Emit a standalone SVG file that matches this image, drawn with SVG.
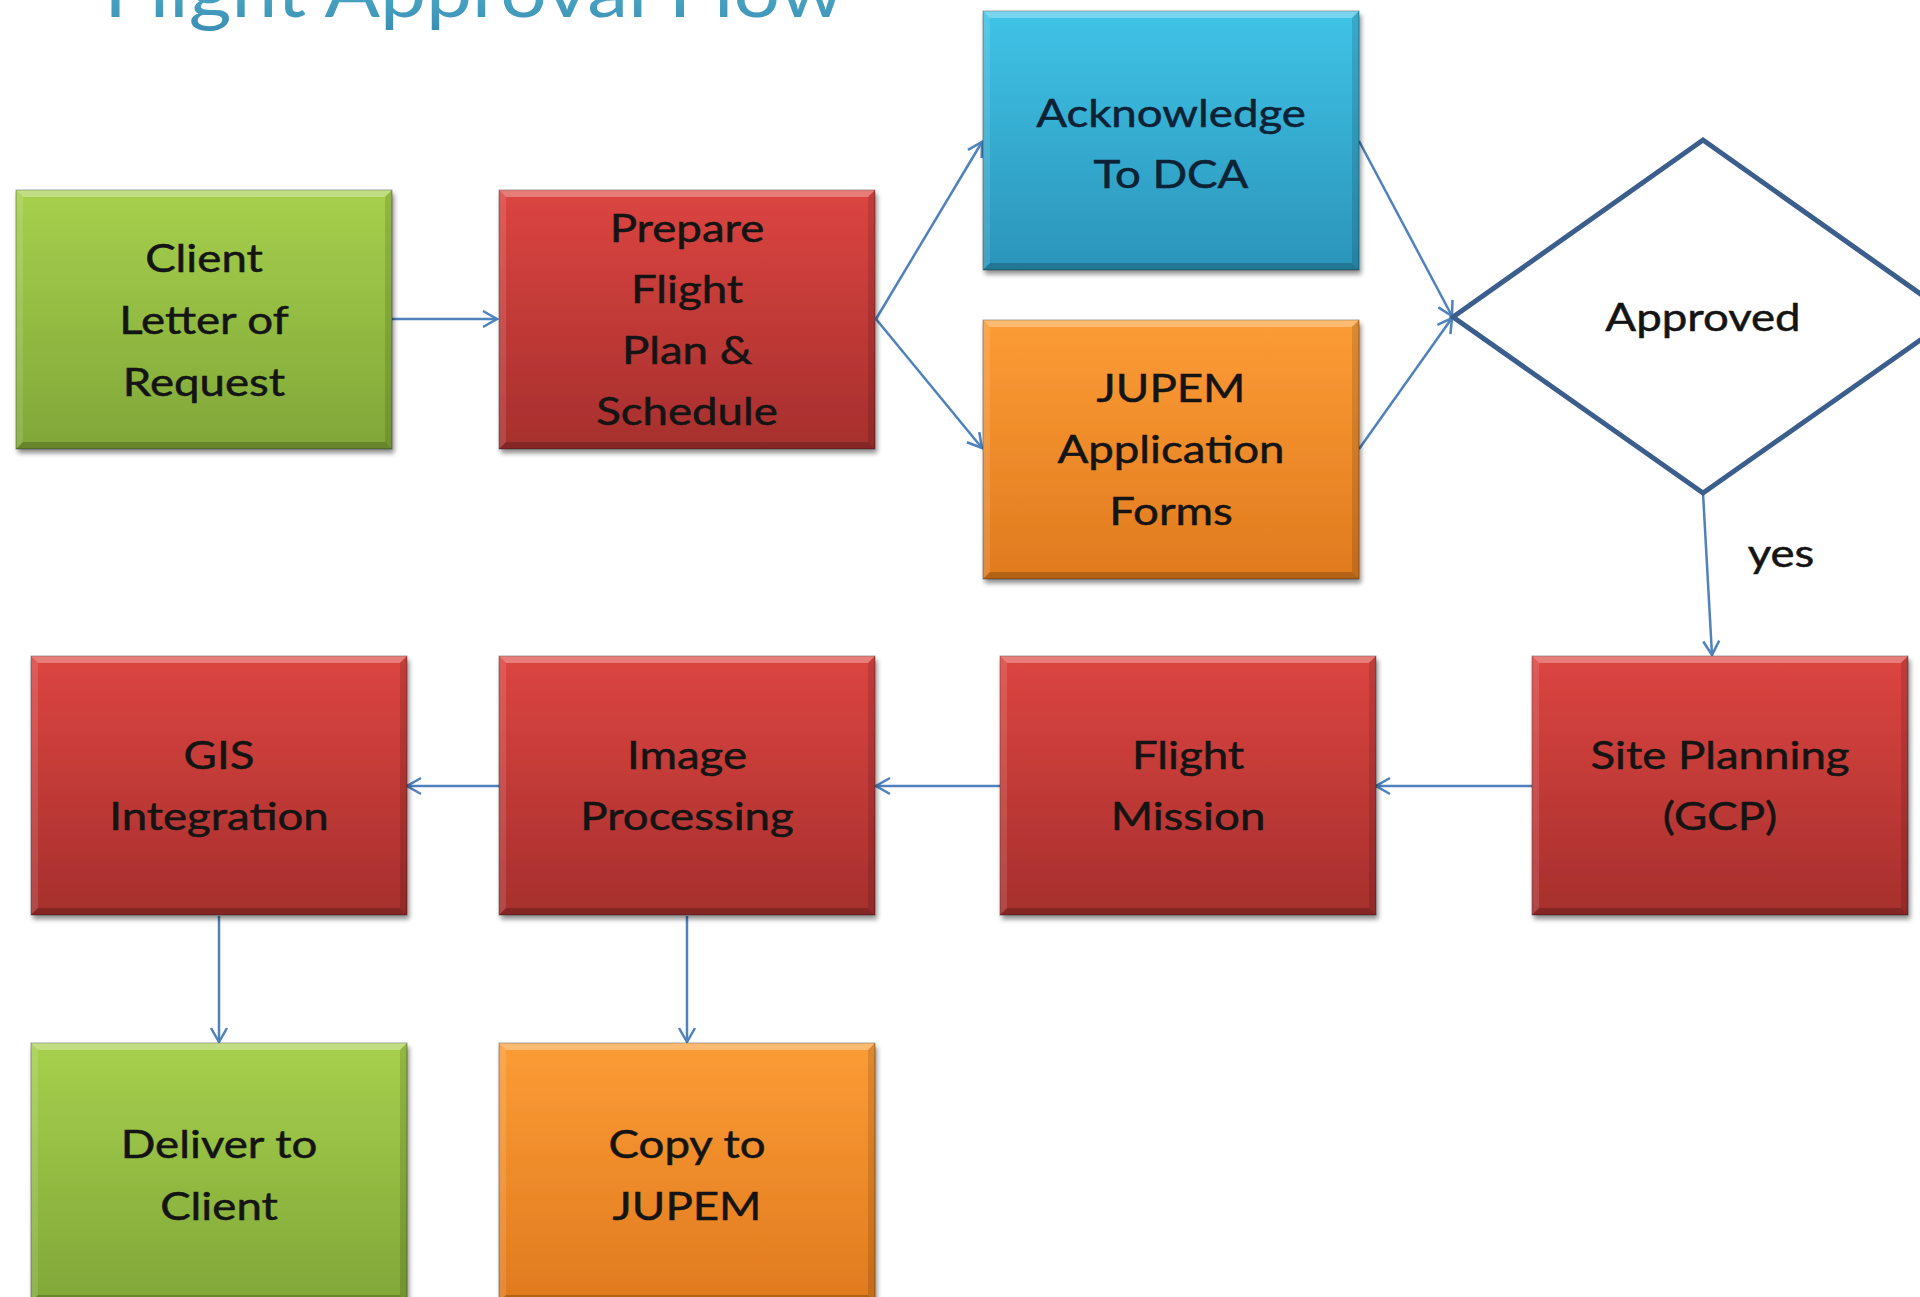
<svg xmlns="http://www.w3.org/2000/svg" xmlns:xlink="http://www.w3.org/1999/xlink" width="1920" height="1297" viewBox="0 0 1920 1297">
  <style>
    .lbl { font-family: Lato, "Liberation Sans", sans-serif; font-size: 38px; fill: #141414; stroke: #141414; stroke-width: 0.5; text-anchor: middle; }
    .title { font-family: Lato, "Liberation Sans", sans-serif; font-size: 74px; }
    .edge { fill: none; stroke: #4F81BD; stroke-width: 2.5; marker-end: url(#open); }
    .frame { stroke: rgba(0,0,0,0.35); stroke-width: 1; }
    .green { fill: url(#gGreen); }
    .red { fill: url(#gRed); }
    .blue { fill: url(#gBlue); }
    .orange { fill: url(#gOrange); }
  </style>
  <defs>
    <linearGradient id="gGreen" x1="0" y1="0" x2="0" y2="1">
      <stop offset="0" stop-color="#A6D04D"/>
      <stop offset="1" stop-color="#80A738"/>
    </linearGradient>
    <linearGradient id="gRed" x1="0" y1="0" x2="0" y2="1">
      <stop offset="0" stop-color="#DC4541"/>
      <stop offset="1" stop-color="#A62F2D"/>
    </linearGradient>
    <linearGradient id="gBlue" x1="0" y1="0" x2="0" y2="1">
      <stop offset="0" stop-color="#3FC3E7"/>
      <stop offset="1" stop-color="#2B94B9"/>
    </linearGradient>
    <linearGradient id="gOrange" x1="0" y1="0" x2="0" y2="1">
      <stop offset="0" stop-color="#FC9C36"/>
      <stop offset="1" stop-color="#E07A1E"/>
    </linearGradient>
    <linearGradient id="gTitle" x1="0" y1="0" x2="0" y2="1">
      <stop offset="0" stop-color="#5CC3DA"/>
      <stop offset="1" stop-color="#3A8DB2"/>
    </linearGradient>
    <filter id="shadow" x="-5%" y="-5%" width="115%" height="115%">
      <feGaussianBlur in="SourceAlpha" stdDeviation="2.5"/>
      <feOffset dx="2" dy="4" result="off"/>
      <feComponentTransfer><feFuncA type="linear" slope="0.45"/></feComponentTransfer>
      <feMerge><feMergeNode/><feMergeNode in="SourceGraphic"/></feMerge>
    </filter>
    <!-- bevelled edges laid over every 376x259 box -->
    <g id="bevel">
      <path d="M0,0 L376,0 L369,7 L7,7 Z" fill="#fff" fill-opacity="0.3"/>
      <path d="M0,0 L7,7 L7,252 L0,259 Z" fill="#fff" fill-opacity="0.12"/>
      <path d="M376,0 L376,259 L369,252 L369,7 Z" fill="#000" fill-opacity="0.12"/>
      <path d="M0,259 L7,252 L369,252 L376,259 Z" fill="#000" fill-opacity="0.2"/>
    </g>
    <marker id="open" markerUnits="userSpaceOnUse" markerWidth="20" markerHeight="22" viewBox="-17 -11 20 22" refX="0" refY="0" orient="auto">
      <path d="M-14,-8 L0,0 L-14,8" fill="none" stroke="#4F81BD" stroke-width="2.5"/>
    </marker>
  </defs>

  <rect width="1920" height="1297" fill="#fff"/>

  <text class="title" x="104" y="17" textLength="740" lengthAdjust="spacingAndGlyphs" fill="url(#gTitle)">Flight Approval Flow</text>

  <g id="connectors">
    <path class="edge" d="M391,319 L497,319"/>
    <path class="edge" d="M876,319 L982,142"/>
    <path class="edge" d="M876,319 L982,448"/>
    <path class="edge" d="M1359,141 L1452,316"/>
    <path class="edge" d="M1359,449 L1452,318"/>
    <path class="edge" d="M1703,493 L1712,655"/>
    <path class="edge" d="M1532,786 L1376,786"/>
    <path class="edge" d="M1000,786 L876,786"/>
    <path class="edge" d="M499,786 L407,786"/>
    <path class="edge" d="M219,916 L219,1042"/>
    <path class="edge" d="M687,916 L687,1042"/>
  </g>

  <g id="client-request" transform="translate(16,190)">
    <rect class="green frame" width="376" height="259" filter="url(#shadow)"/>
    <use xlink:href="#bevel"/>
    <text class="lbl" transform="translate(188,0) scale(1.2,1)"><tspan x="0" y="82">Client</tspan><tspan x="0" y="144">Letter of</tspan><tspan x="0" y="206">Request</tspan></text>
  </g>

  <g id="prepare-plan" transform="translate(499,190)">
    <rect class="red frame" width="376" height="259" filter="url(#shadow)"/>
    <use xlink:href="#bevel"/>
    <text class="lbl" transform="translate(188,0) scale(1.2,1)"><tspan x="0" y="52">Prepare</tspan><tspan x="0" y="113">Flight</tspan><tspan x="0" y="174">Plan &amp;</tspan><tspan x="0" y="235">Schedule</tspan></text>
  </g>

  <g id="acknowledge-dca" transform="translate(983,11)">
    <rect class="blue frame" width="376" height="259" filter="url(#shadow)"/>
    <use xlink:href="#bevel"/>
    <text class="lbl" style="fill:#0E2235;stroke:#0E2235" transform="translate(188,0) scale(1.2,1)"><tspan x="0" y="116">Acknowledge</tspan><tspan x="0" y="177">To DCA</tspan></text>
  </g>

  <g id="jupem-forms" transform="translate(983,320)">
    <rect class="orange frame" width="376" height="259" filter="url(#shadow)"/>
    <use xlink:href="#bevel"/>
    <text class="lbl" transform="translate(188,0) scale(1.2,1)"><tspan x="0" y="82">JUPEM</tspan><tspan x="0" y="143">Application</tspan><tspan x="0" y="205">Forms</tspan></text>
  </g>

  <g id="approved">
    <path d="M1453,317 L1703,140 L1953,317 L1703,493 Z" fill="#fff" stroke="#3B5E8C" stroke-width="5" stroke-linejoin="miter"/>
    <text class="lbl" transform="translate(1703,0) scale(1.2,1)"><tspan x="0" y="331">Approved</tspan></text>
  </g>

  <text class="lbl" transform="translate(1781,0) scale(1.2,1)"><tspan x="0" y="567">yes</tspan></text>

  <g id="site-planning" transform="translate(1532,656)">
    <rect class="red frame" width="376" height="259" filter="url(#shadow)"/>
    <use xlink:href="#bevel"/>
    <text class="lbl" transform="translate(188,0) scale(1.2,1)"><tspan x="0" y="113">Site Planning</tspan><tspan x="0" y="174">(GCP)</tspan></text>
  </g>

  <g id="flight-mission" transform="translate(1000,656)">
    <rect class="red frame" width="376" height="259" filter="url(#shadow)"/>
    <use xlink:href="#bevel"/>
    <text class="lbl" transform="translate(188,0) scale(1.2,1)"><tspan x="0" y="113">Flight</tspan><tspan x="0" y="174">Mission</tspan></text>
  </g>

  <g id="image-processing" transform="translate(499,656)">
    <rect class="red frame" width="376" height="259" filter="url(#shadow)"/>
    <use xlink:href="#bevel"/>
    <text class="lbl" transform="translate(188,0) scale(1.2,1)"><tspan x="0" y="113">Image</tspan><tspan x="0" y="174">Processing</tspan></text>
  </g>

  <g id="gis-integration" transform="translate(31,656)">
    <rect class="red frame" width="376" height="259" filter="url(#shadow)"/>
    <use xlink:href="#bevel"/>
    <text class="lbl" transform="translate(188,0) scale(1.2,1)"><tspan x="0" y="113">GIS</tspan><tspan x="0" y="174">Integration</tspan></text>
  </g>

  <g id="deliver-client" transform="translate(31,1043)">
    <rect class="green frame" width="376" height="259" filter="url(#shadow)"/>
    <use xlink:href="#bevel"/>
    <text class="lbl" transform="translate(188,0) scale(1.2,1)"><tspan x="0" y="115">Deliver to</tspan><tspan x="0" y="177">Client</tspan></text>
  </g>

  <g id="copy-jupem" transform="translate(499,1043)">
    <rect class="orange frame" width="376" height="259" filter="url(#shadow)"/>
    <use xlink:href="#bevel"/>
    <text class="lbl" transform="translate(188,0) scale(1.2,1)"><tspan x="0" y="115">Copy to</tspan><tspan x="0" y="177">JUPEM</tspan></text>
  </g>
</svg>
